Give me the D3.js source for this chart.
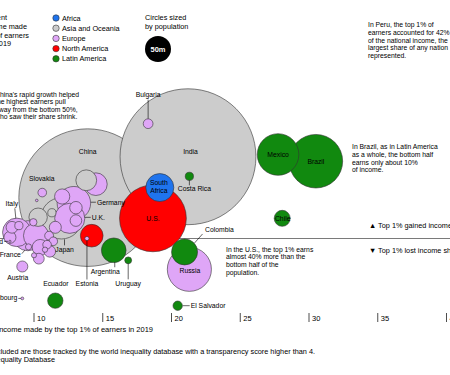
<!DOCTYPE html>
<html lang="en">
<head>
    <meta charset="UTF-8">
    <title>Top 1% income share</title>
    <script src="https://cdn.jsdelivr.net/npm/d3@7"></script>
    <style>
        body { margin: 0; background: #fff; }
        svg { display: block; font-family: "Liberation Sans", Arial, sans-serif; }
        .lbl { font-size: 6.8px; fill: #000; }
        .note { font-size: 6.8px; fill: #000; }
        .legend { font-size: 7.3px; fill: #000; }
        .axis text { font-size: 7.5px; fill: #000; }
        .leader { stroke: #000; stroke-width: 0.6; }
    </style>
</head>
<body>
<svg id="chart" width="450" height="375"></svg>
<script>
    // data
    const countries = ["China", "India", "U.S.", "Brazil", "Russia", "Mexico", "Japan", "Germany", "U.K.", "France",
        "Italy", "South Africa", "Colombia", "Spain", "Argentina", "Poland", "Canada", "Malaysia", "Australia", "Chile",
        "Romania", "Ecuador", "Netherlands", "Belgium", "Czechia", "Greece", "Portugal", "Sweden", "Hungary", "Austria",
        "Switzerland", "Bulgaria", "El Salvador", "Denmark", "Slovakia", "Finland", "Norway", "Costa Rica", "New Zealand", "Ireland",
        "Croatia", "Uruguay", "Lithuania", "Slovenia", "Latvia", "Estonia", "Malta", "Luxembourg", "Iceland"];
    const regions = ["Asia and Oceania", "Asia and Oceania", "North America", "Latin America", "Europe", "Latin America", "Asia and Oceania", "Europe", "Europe", "Europe",
        "Europe", "Africa", "Latin America", "Europe", "Latin America", "Europe", "North America", "Asia and Oceania", "Asia and Oceania", "Latin America",
        "Europe", "Latin America", "Europe", "Europe", "Europe", "Europe", "Europe", "Europe", "Europe", "Europe",
        "Europe", "Europe", "Latin America", "Europe", "Europe", "Europe", "Europe", "Latin America", "Asia and Oceania", "Europe",
        "Europe", "Latin America", "Europe", "Europe", "Europe", "Europe", "Europe", "Europe", "Europe"];
    // share of national income held by the top 1% in 2019 (%)
    const share2019 = [13.9, 21.2, 18.65, 30.5, 21.3, 27.75, 12.0, 12.9, 12.6, 9.55,
        8.75, 19.15, 20.95, 10.15, 15.8, 14.5, 14.2, 13.8, 10.3, 28.05,
        10.45, 11.55, 12.05, 13.05, 11.55, 8.25, 8.4, 13.05, 11.15, 9.15,
        10.35, 18.3, 20.45, 11.1, 10.6, 11.4, 10.95, 21.3, 11.3, 8.9,
        9.95, 16.85, 9.6, 10.8, 10.0, 13.85, 10.2, 9.15, 8.25];
    // change in that share, percentage points
    const shareChange = [7.3, 14.6, 3.6, 13.8, -5.5, 15.0, 3.6, 6.3, 3.6, 0.5,
        1.1, 9.1, -2.4, 0.5, -2.1, 9.7, 0.5, 10.4, 3.8, 3.6,
        -1.6, -11.1, 7.5, 5.5, 2.0, 0.2, 2.0, 3.2, -2.3, -5.0,
        -3.6, 20.5, -12.0, 0.5, 8.2, -0.5, -1.1, 11.1, 4.6, 2.3,
        2.9, -3.9, -1.5, -2.0, -3.0, 0.0, 6.8, -10.7, -0.5];
    // population, millions
    const population = [1400, 1366, 330, 212, 144, 128, 126, 83, 67, 67,
        60, 58, 50, 47, 45, 38, 38, 32, 25, 19,
        19, 17.5, 17, 11.5, 10.7, 10.7, 10.3, 10, 9.8, 9,
        8.6, 7, 6.5, 5.8, 5.5, 5.5, 5.4, 5, 5, 5,
        4, 3.5, 2.8, 2.1, 1.9, 1.3, 0.5, 0.6, 0.36];

    const regionNames = ["Africa", "Asia and Oceania", "Europe", "North America", "Latin America"];
    const regionColors = ["#1f74ee", "#cccccc", "#dfa6f7", "#ff0000", "#11890f"];
    const xTicks = [10, 15, 20, 25, 30, 35, 40];

    const data = countries.map((c, i) => ({
        name: c, region: regions[i], share: share2019[i], change: shareChange[i], pop: population[i]
    }));

    const svg = d3.select("#chart");
    const x = d3.scaleLinear().domain([10, 40]).range([34, 446.5]);
    const y = d3.scaleLinear().domain([0, 10]).range([238.5, 182.5]);
    const r = d3.scaleSqrt().domain([0, 50]).range([0, 13]);
    const color = d3.scaleOrdinal().domain(regionNames).range(regionColors);

    // zero line
    svg.append("line")
        .attr("x1", 0).attr("x2", 450)
        .attr("y1", y(0)).attr("y2", y(0))
        .attr("stroke", "#7a7a7a").attr("stroke-width", 1);

    // x ticks, no axis line
    const axis = svg.append("g").attr("class", "axis");
    axis.selectAll("line").data(xTicks).join("line")
        .attr("x1", d => x(d)).attr("x2", d => x(d))
        .attr("y1", 313).attr("y2", 322)
        .attr("stroke", "#000").attr("stroke-width", 0.7);
    axis.selectAll("text").data(xTicks).join("text")
        .attr("x", d => x(d) + 3).attr("y", 320.5)
        .text(d => d);
    axis.append("text")
        .attr("x", 153).attr("y", 331.5).attr("text-anchor", "end")
        .text("Share of income made by the top 1% of earners in 2019");

    // bubbles, biggest first
    const sorted = data.slice().sort((a, b) => b.pop - a.pop);
    svg.append("g").selectAll("circle").data(sorted).join("circle")
        .attr("cx", d => x(d.share))
        .attr("cy", d => y(d.change))
        .attr("r", d => r(d.pop))
        .attr("fill", d => color(d.region))
        .attr("stroke", "#333")
        .attr("stroke-width", 0.6);

    // label placement relative to each bubble centre
    const labels = [
        { name: "China", dx: 0, dy: -43.5 },
        { name: "India", dx: 2.5, dy: -2.5 },
        { name: "U.S.", dx: 0, dy: 2.5 },
        { name: "South Africa", lines: ["South", "Africa"], dx: -1, dy: -2.5, lh: 8 },
        { name: "Mexico", dx: 0, dy: 2 },
        { name: "Brazil", dx: 0, dy: 2.5 },
        { name: "Chile", dx: 0.5, dy: 2.5 },
        { name: "Russia", dx: 0.5, dy: 3.5 },
        { name: "Costa Rica", dx: 5, dy: 14.5, leader: [0, 4, 0, 9] },
        { name: "Colombia", dx: 20.5, dy: -19.5, anchor: "start", leader: [10, -9, 18, -18] },
        { name: "Bulgaria", dx: 0, dy: -27, leader: [0, -5, 0, -24] },
        { name: "Slovakia", dx: -0.5, dy: -11.5 },
        { name: "Italy", dx: -5, dy: -26, leader: [-1, -14, -2, -24] },
        { name: "Germany", dx: 23, dy: 1.5, anchor: "start", leader: [17, -1, 22, -1] },
        { name: "U.K.", dx: 22, dy: 1.5, anchor: "start", leader: [15, -1, 21, -1] },
        { name: "Japan", dx: 3, dy: 34, leader: [3, 21, 3, 27] },
        { name: "France", dx: -7, dy: 21.5, anchor: "end", leader: [-6, 18, -3, 14.5] },
        { name: "Austria", dx: -4.5, dy: 13 },
        { name: "Estonia", dx: 0, dy: 47.5, leader: [0, 2, 0, 41] },
        { name: "Argentina", dx: -8.5, dy: 23.5, leader: [1, 12, 1, 17] },
        { name: "Uruguay", dx: 0, dy: 25.5, leader: [0, 3, 0, 19] },
        { name: "Ecuador", dx: 0.5, dy: -14.5 },
        { name: "Luxembourg", dx: -5, dy: 2, anchor: "end", leader: [-4, 0, -1.5, 0] },
        { name: "El Salvador", dx: 13, dy: 2.5, anchor: "start", leader: [5, 0, 12, 0] },
        { name: "Iceland", dx: -7, dy: 2.5, anchor: "end", leader: [-6, 0, -2, 0] }
    ];

    const lblG = svg.append("g");
    labels.forEach(l => {
        const d = data.find(e => e.name === l.name);
        const cx = x(d.share), cy = y(d.change);
        if (l.leader) {
            lblG.append("line").attr("class", "leader")
                .attr("x1", cx + l.leader[0]).attr("y1", cy + l.leader[1])
                .attr("x2", cx + l.leader[2]).attr("y2", cy + l.leader[3]);
        }
        const t = lblG.append("text").attr("class", "lbl")
            .attr("text-anchor", l.anchor || "middle")
            .attr("x", cx + l.dx).attr("y", cy + l.dy);
        (l.lines || [l.name]).forEach((s, i) => {
            t.append("tspan").attr("x", cx + l.dx).attr("dy", i ? l.lh : 0).text(s);
        });
    });

    // multi-line text helper
    function block(lines, px, py, lh, cls, anchor) {
        const t = svg.append("text").attr("class", cls)
            .attr("x", px).attr("y", py).attr("text-anchor", anchor || "start");
        lines.forEach((s, i) => t.append("tspan").attr("x", px).attr("dy", i ? lh : 0).text(s));
        return t;
    }

    // title (cut at left edge)
    const titleLines = ["Change in percent", "of national income made", "by the top 1% of earners", "from 1980 to 2019"];
    const titleEnds = [7, 27, 29, 11];
    titleLines.forEach((s, i) => {
        svg.append("text").attr("class", "legend")
            .attr("x", titleEnds[i]).attr("y", 20 + i * 8.8)
            .attr("text-anchor", "end").text(s);
    });

    // region legend
    const leg = svg.append("g").selectAll("g").data(regionNames).join("g")
        .attr("transform", (d, i) => `translate(56,${18 + i * 10.2})`);
    leg.append("circle").attr("r", 3.2)
        .attr("fill", d => color(d)).attr("stroke", "#333").attr("stroke-width", 0.6);
    leg.append("text").attr("class", "legend").attr("x", 6).attr("y", 2.6).text(d => d);

    // size legend
    block(["Circles sized", "by population"], 145, 20, 9, "legend");
    svg.append("circle").attr("cx", 158).attr("cy", 49).attr("r", r(50)).attr("fill", "#000");
    svg.append("text").attr("x", 158).attr("y", 51.8).attr("text-anchor", "middle")
        .attr("fill", "#fff").attr("font-size", 7.5).attr("font-weight", "bold").text("50m");

    // annotations
    block(["In Peru, the top 1% of", "earners accounted for 42%", "of the national income, the",
        "largest share of any nation", "represented."], 368, 27, 7.8, "note");
    block(["China's rapid growth helped", "the highest earners pull", "away from the bottom 50%,",
        "who saw their share shrink."], -5, 96.5, 7.5, "note");
    block(["In Brazil, as in Latin America", "as a whole, the bottom half", "earns only about 10%",
        "of income."], 352, 149, 7.8, "note");
    block(["In the U.S., the top 1% earns", "almost 40% more than the", "bottom half of the",
        "population."], 226, 251.5, 7.8, "note");

    svg.append("text").attr("class", "legend").attr("x", 369).attr("y", 227.5).text("▲ Top 1% gained income share");
    svg.append("text").attr("class", "legend").attr("x", 369).attr("y", 252.5).text("▼ Top 1% lost income share");

    // footnotes
    svg.append("text").attr("class", "legend").attr("x", 315).attr("y", 353.5).attr("text-anchor", "end")
        .text("Note: Countries included are those tracked by the world inequality database with a transparency score higher than 4.");
    svg.append("text").attr("class", "legend").attr("x", 55).attr("y", 361.5).attr("text-anchor", "end")
        .text("Source: World Inequality Database");
</script>
</body>
</html>
